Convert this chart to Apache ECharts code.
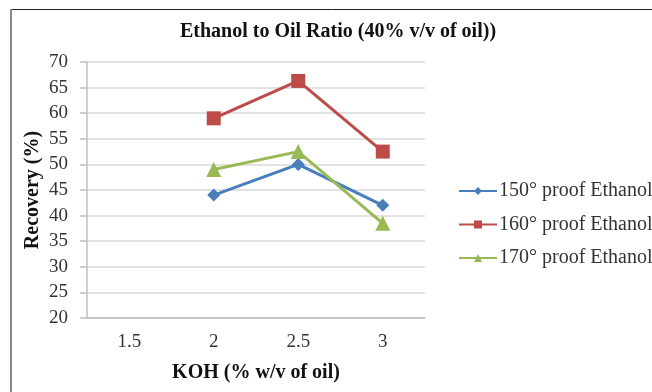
<!DOCTYPE html>
<html><head><meta charset="utf-8">
<script src="https://cdn.jsdelivr.net/npm/echarts@6/dist/echarts.min.js"></script>
<style>html,body{margin:0;padding:0;background:#fff}#c{width:652px;height:392px}</style>
</head><body><div id="c"></div>
<script>
const categories = ['1.5', '2', '2.5', '3'];
const s150 = [null, 44, 50, 42];
const s160 = [null, 59, 66.3, 52.5];
const s170 = [null, 49, 52.5, 38.5];
const seriesNames = ['150° proof Ethanol', '160° proof Ethanol', '170° proof Ethanol'];

const font = 'Liberation Serif';
const chart = echarts.init(document.getElementById('c'), null, {renderer: 'canvas'});
chart.setOption({
  animation: false,
  backgroundColor: '#fff',
  textStyle: {fontFamily: font},
  graphic: [
    {type: 'line', shape: {x1: 10, y1: 9.5, x2: 700, y2: 9.5}, style: {stroke: '#222', lineWidth: 1}},
    {type: 'line', shape: {x1: 11, y1: 9, x2: 11, y2: 400}, style: {stroke: '#888', lineWidth: 2}}
  ],
  title: {
    text: 'Ethanol to Oil Ratio (40% v/v of oil))',
    left: 333, top: 17, textAlign: 'center',
    textStyle: {fontFamily: font, fontSize: 20, fontWeight: 'bold', color: '#111'}
  },
  grid: {left: 87, right: 227, top: 62, bottom: 74, containLabel: false},
  legend: {
    orient: 'vertical', left: 453, top: 176, itemGap: 13.5,
    itemWidth: 38, itemHeight: 10,
    textStyle: {fontFamily: font, fontSize: 20, color: '#333', padding: [0, 0, 0, -3]},
    data: seriesNames
  },
  xAxis: {
    type: 'category', data: categories, boundaryGap: true,
    name: 'KOH (% w/v of oil)', nameLocation: 'middle', nameGap: 45,
    nameTextStyle: {fontFamily: font, fontSize: 20, fontWeight: 'bold', color: '#111'},
    axisLine: {lineStyle: {color: '#bfbfbf', width: 1.5}},
    axisTick: {show: false},
    axisLabel: {fontFamily: font, fontSize: 19, color: '#333', margin: 15}
  },
  yAxis: {
    type: 'value', min: 20, max: 70, interval: 5,
    name: 'Recovery (%)', nameLocation: 'middle', nameGap: 44, nameRotate: 90,
    nameMoveOverlap: false,
    nameTextStyle: {fontFamily: font, fontSize: 20, fontWeight: 'bold', color: '#111'},
    axisLine: {show: true, lineStyle: {color: '#bfbfbf', width: 1.5}},
    axisTick: {show: true, length: 7, lineStyle: {color: '#bfbfbf', width: 1.5}},
    axisLabel: {fontFamily: font, fontSize: 19, color: '#333', margin: 19},
    splitLine: {lineStyle: {color: '#d9d9d9', width: 1.5}}
  },
  series: [
    {name: seriesNames[0], type: 'line', data: s150, symbol: 'diamond', symbolSize: 13,
     lineStyle: {color: '#4a7ebb', width: 3}, itemStyle: {color: '#4a7ebb'}},
    {name: seriesNames[1], type: 'line', data: s160, symbol: 'rect', symbolSize: 14,
     lineStyle: {color: '#be4b48', width: 3}, itemStyle: {color: '#be4b48'}},
    {name: seriesNames[2], type: 'line', data: s170, symbol: 'triangle', symbolSize: 15,
     lineStyle: {color: '#98b954', width: 3}, itemStyle: {color: '#98b954'}}
  ]
});
</script></body></html>
